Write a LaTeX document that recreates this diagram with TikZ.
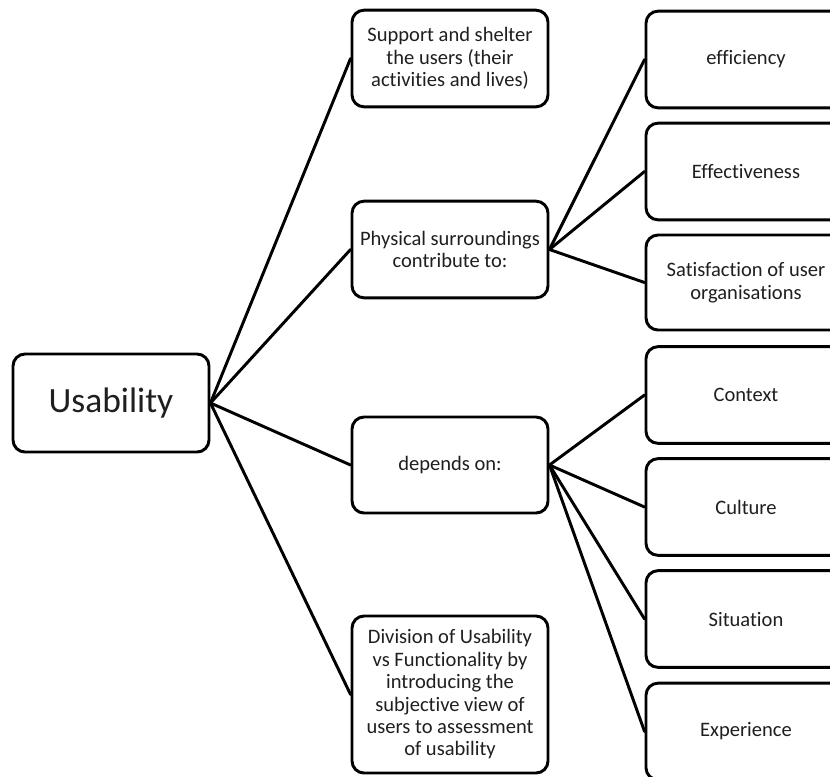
\documentclass[tikz,border=0pt]{standalone}
\usepackage{fontspec}
\setmainfont[Ligatures={NoCommon,NoContextual,NoRare},Contextuals=NoAlternate]{Carlito}
\begin{document}
\begin{tikzpicture}[x=0.75pt,y=-0.75pt,
  box/.style={draw=black,line width=2.2pt,rounded corners=9pt,fill=white,
    align=center,inner sep=2pt,font=\fontsize{15.4}{16.8}\selectfont,text=black!88},
  mid/.style={box,minimum width=147pt,minimum height=72.5pt},
  rgt/.style={box,minimum width=150pt,minimum height=72.5pt},
  link/.style={line width=2.2pt,line cap=round}]
\useasboundingbox (0,0) rectangle (830,776);
% root
\node[box,minimum width=147pt,minimum height=73.5pt,font=\fontsize{26.6}{30}\selectfont] (use) at (111,403) {Usability};
% middle column
\node[mid] (b1) at (450,58.5) {Support and shelter\\the users (their\\activities and lives)};
\node[mid] (b2) at (450,249.5) {Physical surroundings\\contribute to:};
\node[mid,minimum height=72pt] (b3) at (450,465) {depends on:};
\node[mid,minimum height=117.75pt] (b4) at (450,694.5) {Division of Usability\\vs Functionality by\\introducing the\\subjective view of\\users to assessment\\of usability};
% right column
\node[rgt] (r1) at (746,59.5) {efficiency};
\node[rgt] (r2) at (746,171.5) {Effectiveness};
\node[rgt,minimum height=71.25pt] (r3) at (746,282.5) {Satisfaction of user\\organisations};
\node[rgt] (r4) at (746,395) {Context};
\node[rgt] (r5) at (746,507) {Culture};
\node[rgt] (r6) at (746,619) {Situation};
\node[rgt] (r7) at (746,731.5) {Experience};
% connectors
\foreach \t in {b1,b2,b3,b4} \draw[link] (use.east) -- (\t.west);
\foreach \t in {r1,r2,r3} \draw[link] (b2.east) -- (\t.west);
\foreach \t in {r4,r5,r6,r7} \draw[link] (b3.east) -- (\t.west);
\end{tikzpicture}
\end{document}
